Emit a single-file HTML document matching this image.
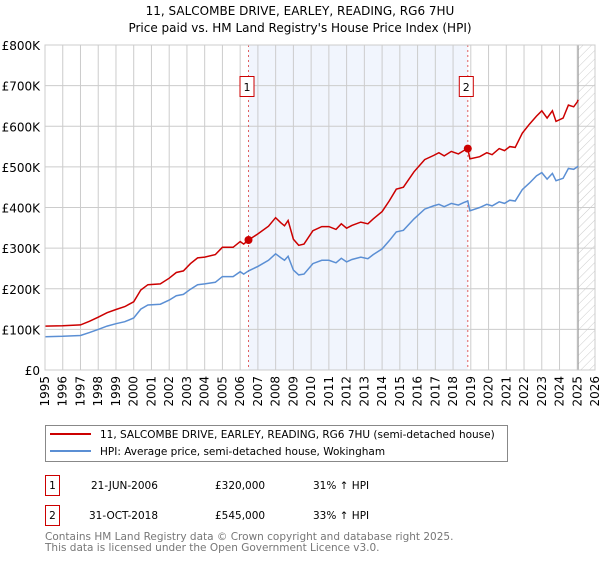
<!DOCTYPE html>
<html><head><meta charset="utf-8"><style>
body{margin:0;background:#fff;font-family:"Liberation Sans","DejaVu Sans",sans-serif;}
svg text{font-family:"DejaVu Sans","Liberation Sans",sans-serif;}
</style></head><body>
<svg id="c" width="600" height="560" xmlns="http://www.w3.org/2000/svg">
<defs><pattern id="hatch" width="6" height="6" patternUnits="userSpaceOnUse" patternTransform="rotate(45)"><line x1="0" y1="0" x2="0" y2="6" stroke="#ccc" stroke-width="1"/></pattern></defs>
<text x="300" y="15" text-anchor="middle" font-size="12">11, SALCOMBE DRIVE, EARLEY, READING, RG6 7HU</text>
<text x="300" y="32" text-anchor="middle" font-size="12">Price paid vs. HM Land Registry's House Price Index (HPI)</text>
<g id="plot"></g>
<g>
<rect x="45.5" y="425.5" width="462" height="36" fill="#fff" stroke="#888"/>
<line x1="50" y1="434" x2="91" y2="434" stroke="#cc0000" stroke-width="2"/>
<text x="100" y="438" font-size="10.5">11, SALCOMBE DRIVE, EARLEY, READING, RG6 7HU (semi-detached house)</text>
<line x1="50" y1="451" x2="91" y2="451" stroke="#5b8fd4" stroke-width="2"/>
<text x="100" y="455" font-size="10.5">HPI: Average price, semi-detached house, Wokingham</text>
</g>
<g font-size="10.5">
<rect x="45.5" y="475.5" width="14" height="20" fill="none" stroke="#cc0000"/>
<text x="52.5" y="489" text-anchor="middle">1</text>
<text x="91" y="489">21-JUN-2006</text><text x="215" y="489">£320,000</text><text x="313" y="489">31% ↑ HPI</text>
<rect x="45.5" y="505.5" width="14" height="20" fill="none" stroke="#cc0000"/>
<text x="52.5" y="519" text-anchor="middle">2</text>
<text x="89" y="519">31-OCT-2018</text><text x="215" y="519">£545,000</text><text x="313" y="519">33% ↑ HPI</text>
</g>
<text x="45" y="540" font-size="10.5" fill="#777">Contains HM Land Registry data © Crown copyright and database right 2025.</text>
<text x="45" y="551" font-size="10.5" fill="#777">This data is licensed under the Open Government Licence v3.0.</text>
</svg>
<script>
const years=[1995.0,1996.0,1997.0,1997.5,1998.0,1998.5,1999.0,1999.5,2000.0,2000.4,2000.8,2001.5,2002.0,2002.4,2002.8,2003.2,2003.6,2004.0,2004.6,2005.0,2005.6,2006.0,2006.2,2006.47,2007.0,2007.6,2008.0,2008.3,2008.5,2008.7,2009.0,2009.3,2009.6,2010.1,2010.6,2011.0,2011.4,2011.7,2012.0,2012.3,2012.8,2013.2,2013.5,2014.0,2014.4,2014.8,2015.2,2015.8,2016.4,2016.9,2017.2,2017.5,2017.9,2018.3,2018.6,2018.83,2018.95,2019.5,2019.9,2020.2,2020.6,2020.9,2021.2,2021.5,2021.9,2022.3,2022.7,2023.0,2023.3,2023.6,2023.8,2024.2,2024.5,2024.8,2025.0,2025.05];
const hpiValues=[82,83,85,92,100,108,114,119,128,150,160,162,172,183,186,199,210,212,216,230,230,242,236,244,255,270,286,276,270,280,246,234,236,262,270,270,264,275,266,272,278,274,284,298,318,340,344,372,396,404,408,402,410,406,412,416,392,400,408,404,414,410,418,416,444,460,478,486,470,484,466,472,496,494,500,502];
const priceValues=[108,109,111,120,130,141,149,156,168,197,210,212,226,240,244,262,276,278,284,302,302,316,310,320,335,354,375,362,355,368,322,307,310,343,353,353,346,360,349,356,364,360,372,390,416,445,450,488,518,528,535,527,538,532,540,545,520,525,535,530,545,540,550,548,583,605,625,638,620,638,612,620,652,648,660,665];
const saleYears=[2006.47,2018.83];
const salePrices=[320,545];
const saleLabels=["1","2"];
const yTicks=[0,100,200,300,400,500,600,700,800];
const yTickLabels=["£0","£100K","£200K","£300K","£400K","£500K","£600K","£700K","£800K"];
const xTicks=[1995,1996,1997,1998,1999,2000,2001,2002,2003,2004,2005,2006,2007,2008,2009,2010,2011,2012,2013,2014,2015,2016,2017,2018,2019,2020,2021,2022,2023,2024,2025,2026];
const dataEnd=2025.05;

const L=45,R=595,T=45,B=370;
const X=v=>L+(v-1995)/(2026-1995)*(R-L);
const Y=v=>B-v/800*(B-T);
const NS="http://www.w3.org/2000/svg";
const g=document.getElementById('plot');
function mk(t,a){const e=document.createElementNS(NS,t);for(const k in a)e.setAttribute(k,a[k]);g.appendChild(e);return e;}
let e;
e=mk('rect',{x:X(saleYears[0]),y:T,width:X(saleYears[1])-X(saleYears[0]),height:B-T,fill:'#eef3fd',opacity:0.8});


e=mk('rect',{x:X(dataEnd),y:T,width:R-X(dataEnd),height:B-T,fill:'url(#hatch)'});


yTicks.forEach((v,i)=>{
 e=mk('line',{x1:L,x2:R,y1:Y(v),y2:Y(v),stroke:'#ccc','stroke-width':1});
 
 
 e=mk('text',{x:L-5,y:Y(v)+5,'text-anchor':'end','font-size':12});
 e.textContent=yTickLabels[i];
 
 
});
xTicks.forEach(v=>{
 e=mk('line',{x1:X(v),x2:X(v),y1:T,y2:B,stroke:'#ccc','stroke-width':1});
 
 
 e=mk('text',{x:0,y:0,'text-anchor':'end','font-size':12,transform:`translate(${X(v)+4},${B+6}) rotate(-90)`});
 e.textContent=v;
 
 
});
e=mk('line',{x1:X(dataEnd),x2:X(dataEnd),y1:T,y2:B,stroke:'#999','stroke-width':1});


saleYears.forEach((s,i)=>{
 e=mk('line',{x1:X(s),x2:X(s),y1:T,y2:B,stroke:'#e06060','stroke-width':1,'stroke-dasharray':'2,3'});
 
 
 e=mk('rect',{x:X(s)-8.5,y:76.5,width:14,height:20,fill:'#fff',stroke:'#cc0000'});
 
 
 e=mk('text',{x:X(s)-1.5,y:91,'text-anchor':'middle','font-size':11});
 e.textContent=saleLabels[i];
 
 
});
function path(vals){return vals.map((v,i)=>(i?'L':'M')+X(years[i]).toFixed(1)+','+Y(v).toFixed(1)).join('');}
e=mk('path',{d:path(hpiValues),fill:'none',stroke:'#5b8fd4','stroke-width':1.5});


e=mk('path',{d:path(priceValues),fill:'none',stroke:'#cc0000','stroke-width':1.5});


saleYears.forEach((s,i)=>{
 e=mk('circle',{cx:X(s),cy:Y(salePrices[i]),r:4,fill:'#cc0000'});
 
 
});
e=mk('rect',{x:L,y:T,width:R-L,height:B-T,fill:'none',stroke:'#ccc'});


</script>
</body></html>
